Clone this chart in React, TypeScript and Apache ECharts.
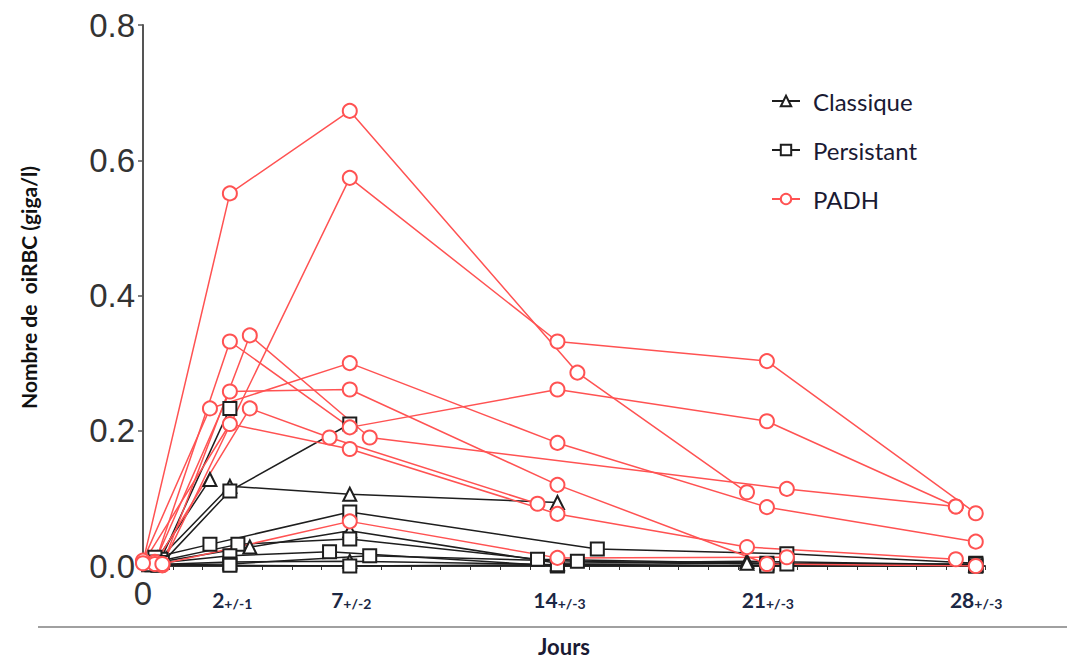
import React, { useEffect, useRef } from "react";
import * as echarts from "echarts";

// ---- Data (day, oiRBC giga/l) per patient ----
const classique1 = [[0.5, 0.012], [2.25, 0.128]];
const classique2 = [[0.5, 0.008], [2.92, 0.118], [6.95, 0.106], [13.93, 0.094]];
const classique3 = [[0.3, 0.004], [3.59, 0.028], [6.95, 0.052], [13.93, 0.004], [20.3, 0.007], [27.99, 0.002]];
const classique4 = [[0.2, 0.002], [2.92, 0.006], [6.95, 0.007], [13.93, 0.002], [20.3, 0.004], [27.99, 0.001]];

const persistant1 = [[0.6, 0.01], [2.92, 0.233]];
const persistant2 = [[0.65, 0.005], [2.92, 0.111], [6.95, 0.21]];
const persistant3 = [[0.4, 0.013], [2.25, 0.032], [6.95, 0.08], [15.27, 0.025], [21.64, 0.018], [27.99, 0.004]];
const persistant4 = [[0.4, 0.006], [3.19, 0.032], [6.95, 0.04], [13.26, 0.01], [20.97, 0.004], [27.99, 0.002]];
const persistant5 = [[0.2, 0.003], [2.92, 0.015], [6.27, 0.021], [13.93, 0.0], [20.97, 0.001], [27.99, 0.0]];
const persistant6 = [[0.3, 0.002], [2.92, 0.003], [7.62, 0.015], [14.6, 0.007], [21.64, 0.003], [27.99, 0.003]];
const persistant7 = [[0.5, 0.001], [2.92, 0.001], [6.95, 0.0], [13.93, 0.002], [20.97, 0.0], [27.99, 0.0]];

const padh1 = [[0, 0.006], [2.92, 0.551], [6.95, 0.673], [14.6, 0.286], [20.3, 0.109]];
const padh2 = [[0.65, 0.002], [6.95, 0.574], [13.93, 0.332], [20.97, 0.303], [27.99, 0.078]];
const padh3 = [[0.4, 0.004], [2.92, 0.332], [6.95, 0.205], [13.93, 0.261], [20.97, 0.214], [27.32, 0.088]];
const padh4 = [[0.65, 0.001], [3.59, 0.341], [7.62, 0.19], [21.64, 0.114], [27.32, 0.088]];
const padh5 = [[0, 0.008], [2.25, 0.233], [6.95, 0.3], [13.93, 0.182], [20.97, 0.087], [27.99, 0.036]];
const padh6 = [[0.4, 0.006], [2.92, 0.258], [6.95, 0.261], [13.93, 0.12], [20.97, 0.003], [27.99, 0.0]];
const padh7 = [[0.4, 0.003], [3.59, 0.233], [6.27, 0.19], [13.26, 0.092]];
const padh8 = [[0, 0.004], [2.92, 0.21], [6.95, 0.173], [13.93, 0.077], [20.3, 0.028], [27.32, 0.01]];
const padh9 = [[0.65, 0.003], [6.95, 0.066], [13.93, 0.012], [21.64, 0.013]];

const classiqueSeries = [classique1, classique2, classique3, classique4];
const persistantSeries = [persistant1, persistant2, persistant3, persistant4, persistant5, persistant6, persistant7];
const padhSeries = [padh1, padh2, padh3, padh4, padh5, padh6, padh7, padh8, padh9];

const xTickPos = [0, 3, 7, 14, 21, 28];
const xTickMain = ["0", "2", "7", "14", "21", "28"];
const xTickSub = ["", "+/-1", "+/-2", "+/-3", "+/-3", "+/-3"];
const yTicks = [0, 0.2, 0.4, 0.6, 0.8];

const BLACK = "#1e1e1e";
const RED = "#ff5252";

export default function App() {
  const ref = useRef<HTMLDivElement>(null);
  useEffect(() => {
    document.body.style.margin = "0";
    if (!ref.current) return;
    const chart = echarts.init(ref.current, undefined, { renderer: "svg" });

    const mk = (name: string, data: number[][], color: string, symbol: string, size: number) => ({
      type: "line",
      name,
      data,
      symbol,
      symbolSize: size,
      showAllSymbol: true,
      lineStyle: { color, width: 1.5 },
      itemStyle: { color, borderColor: color, borderWidth: 1.6 },
      emphasis: { disabled: true },
    });

    const series = [
      ...classiqueSeries.map((d) => mk("Classique", d, BLACK, "emptyTriangle", 13)),
      ...persistantSeries.map((d) => mk("Persistant", d, BLACK, "emptyRect", 13)),
      ...padhSeries.map((d) => mk("PADH", d, RED, "emptyCircle", 14)),
    ];

    const rich = {
      z: { fontSize: 33, color: "#333", fontFamily: "Liberation Sans", lineHeight: 34 },
      b: { fontSize: 21, fontWeight: "bold", color: "#1b2744", fontFamily: "Lato", lineHeight: 34, verticalAlign: "bottom" },
      s: { fontSize: 14, fontWeight: "bold", color: "#1b2744", fontFamily: "Lato", lineHeight: 31, verticalAlign: "bottom" },
    };

    chart.setOption({
      animation: false,
      backgroundColor: "#fff",
      grid: { left: 143, right: 82, top: 25, bottom: 95, containLabel: false },
      legend: {
        data: ["Classique", "Persistant", "PADH"],
        orient: "vertical",
        left: 766,
        top: 84,
        itemWidth: 28,
        itemHeight: 13,
        itemGap: 25,
        textStyle: { fontSize: 24, fontFamily: "Lato", color: "#1a1a33", padding: [0, 0, 0, 8] },
      },
      xAxis: {
        type: "value",
        min: 0,
        max: 28.3,
        interval: 1,
        splitLine: { show: false },
        axisLine: { show: true, onZero: false, lineStyle: { color: "#333", width: 2 } },
        axisTick: { show: true, length: 4, lineStyle: { color: "#333", width: 1 } },
        axisLabel: {
          margin: 10,
          formatter: (v: number) => {
            const i = xTickPos.findIndex((p) => Math.abs(p - v) < 1e-6);
            if (i < 0) return "";
            if (i === 0) return "{z|" + xTickMain[0] + "}";
            return "{b|" + xTickMain[i] + "}{s|" + xTickSub[i] + "}";
          },
          rich,
        },
        name: "Jours",
        nameLocation: "middle",
        nameGap: 69,
        nameTextStyle: { fontSize: 22, fontWeight: "bold", fontFamily: "Lato", color: "#1a1a33" },
      },
      yAxis: {
        type: "value",
        min: yTicks[0],
        max: yTicks[yTicks.length - 1],
        interval: 0.2,
        splitLine: { show: false },
        axisLine: { show: true, lineStyle: { color: "#555", width: 2 } },
        axisTick: { show: true, length: 5, lineStyle: { color: "#555", width: 1.5 } },
        axisLabel: {
          fontSize: 33,
          color: "#333",
          fontFamily: "Liberation Sans",
          margin: 8,
          formatter: (v: number) => v.toFixed(1),
        },
        name: "Nombre de  oiRBC (giga/l)",
        nameLocation: "middle",
        nameGap: 104,
        nameTextStyle: { fontSize: 21, fontWeight: "bold", fontFamily: "Lato", color: "#111", padding: [0, 0, 0, 16] },
      },
      graphic: [
        {
          type: "line",
          shape: { x1: 38, y1: 627, x2: 1067, y2: 627 },
          style: { stroke: "#a0a0a0", lineWidth: 2 },
          silent: true,
        },
      ],
      series,
    });
    return () => chart.dispose();
  }, []);
  return <div ref={ref} style={{ width: 1067, height: 662 }} />;
}
